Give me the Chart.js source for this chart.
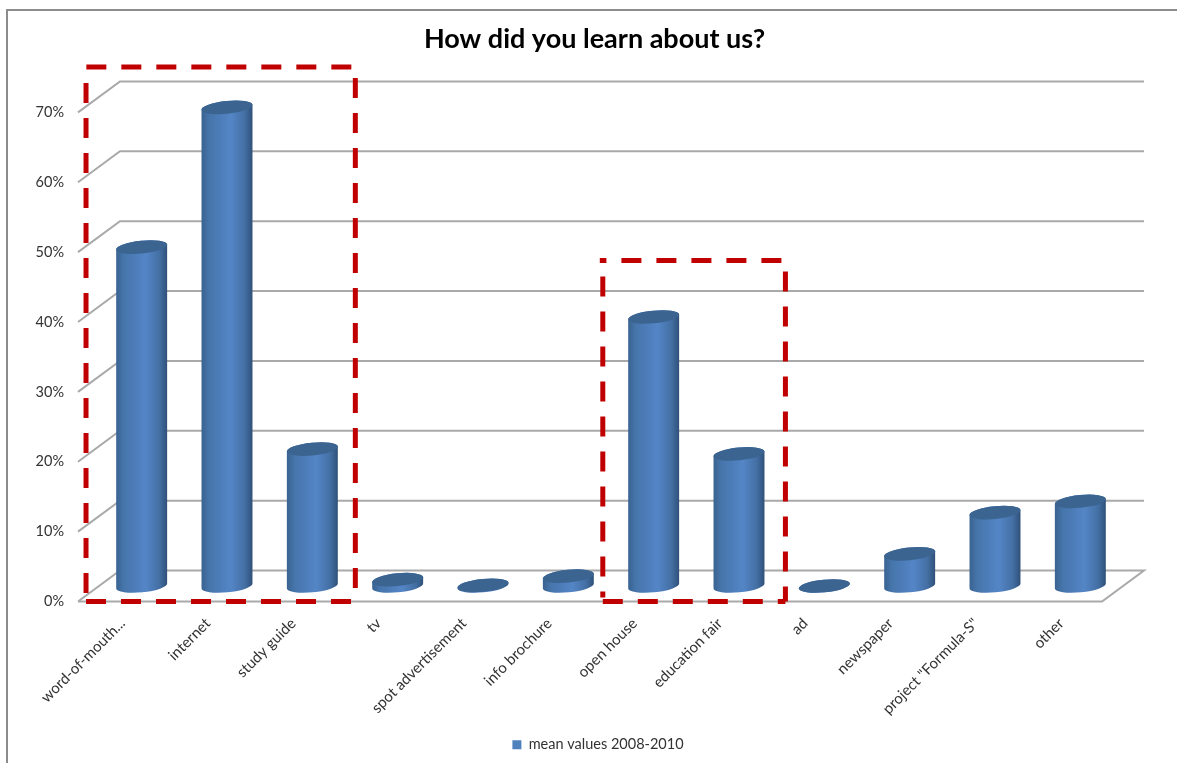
<!DOCTYPE html>
<html>
<head>
<meta charset="utf-8">
<title>How did you learn about us?</title>
<script src="https://cdn.jsdelivr.net/npm/chart.js@4"></script>
<style>
  html, body { margin: 0; padding: 0; background: #fff; overflow: hidden; }
  #wrap { position: relative; width: 1177px; height: 763px; }
  #frame { position: absolute; left: 6px; top: 9px; right: 0; bottom: 0;
           border-left: 2px solid #8c8c8c; border-top: 2px solid #8c8c8c; }
  canvas { position: absolute; left: 0; top: 0; }
</style>
</head>
<body>
<div id="wrap">
  <div id="frame"></div>
  <canvas id="chart" width="1177" height="763"></canvas>
</div>
<script>
// chart data
const categories = ["word-of-mouth...", "internet", "study guide", "tv", "spot advertisement", "info brochure",
  "open house", "education fair", "ad", "newspaper", 'project "Formula-S"', "other"];
const meanValues = [48.5, 68.5, 19.6, 0.9, 0.1, 1.4, 38.5, 18.9, 0, 4.6, 10.5, 12.1];
const seriesName = "mean values 2008-2010";
const chartTitle = "How did you learn about us?";

// red dashed boxes: first/last edge in category units, top edge in axis units
const boxLeft = [-0.406, 5.65];
const boxRight = [2.75, 7.79];
const boxTop = [76.5, 48.8];

// fake 3D depth of the floor
const depthX = 42;
const depthY = 31;

// gridlines on the back wall + floor outline
const wallPlugin = {
  id: "wall",
  afterLayout(chart) {
    // legend sits a little right of the title in the original
    chart.legend.left += 3.5;
    chart.legend.right += 3.5;
  },
  beforeDatasetsDraw(chart) {
    const ctx = chart.ctx;
    const { left, right } = chart.chartArea;
    const y = chart.scales.y;
    ctx.save();
    ctx.strokeStyle = "#a9a9a9";
    ctx.lineWidth = 2;
    y.ticks.forEach((t) => {
      const py = y.getPixelForValue(t.value);
      ctx.beginPath();
      ctx.moveTo(left, py);
      ctx.lineTo(left + depthX, py - depthY);
      ctx.lineTo(right + depthX, py - depthY);
      if (t.value === 0) {
        ctx.lineTo(right, py);
        ctx.lineTo(left, py);
      }
      ctx.stroke();
    });
    ctx.restore();
  }
};

// bars are laid out by chart.js, this only paints them as cylinders
const cylinderPlugin = {
  id: "cylinder",
  beforeDatasetDraw(chart, args) {
    const ctx = chart.ctx;
    args.meta.data.forEach((bar) => {
      const rx = bar.width / 2;
      const ry = 6.4;
      const tilt = -0.1;
      const cx = bar.x + depthX / 2;
      const top = bar.y - depthY / 2;
      const bottom = bar.base - depthY / 2;

      const grad = ctx.createLinearGradient(cx - rx, 0, cx + rx, 0);
      grad.addColorStop(0, "#39628f");
      grad.addColorStop(0.15, "#4675ab");
      grad.addColorStop(0.58, "#5485c6");
      grad.addColorStop(0.85, "#436fa3");
      grad.addColorStop(1, "#2f5078");

      ctx.save();
      ctx.beginPath();
      ctx.ellipse(cx, bottom, rx, ry, tilt, 0, Math.PI);
      ctx.ellipse(cx, top, rx, ry, tilt, Math.PI, Math.PI * 2);
      ctx.closePath();
      ctx.fillStyle = grad;
      ctx.fill();

      ctx.beginPath();
      ctx.ellipse(cx, top, rx, ry, tilt, 0, Math.PI * 2);
      ctx.fillStyle = "#3b6491";
      ctx.fill();
      ctx.restore();
    });
    return false; // skip the stock rectangles
  }
};

function dashedSide(ctx, x1, y1, x2, y2) {
  ctx.beginPath();
  ctx.moveTo(x1, y1);
  ctx.lineTo(x2, y2);
  ctx.stroke();
}

const boxPlugin = {
  id: "redBoxes",
  afterDraw(chart) {
    const ctx = chart.ctx;
    const { x, y } = chart.scales;
    const bottom = y.getPixelForValue(0);
    ctx.save();
    ctx.strokeStyle = "#c00000";
    ctx.lineWidth = 5;
    ctx.setLineDash([20, 15]);
    boxLeft.forEach((from, i) => {
      const l = x.getPixelForValue(from);
      const r = x.getPixelForValue(boxRight[i]);
      const t = y.getPixelForValue(boxTop[i]);
      dashedSide(ctx, r - 4, t, l - 3, t);
      dashedSide(ctx, r, t + 11, r, bottom);
      dashedSide(ctx, l, t + 16, l, bottom - 4);
      dashedSide(ctx, l, bottom, r, bottom);
    });
    ctx.restore();
  }
};

new Chart(document.getElementById("chart"), {
  type: "bar",
  data: {
    labels: categories,
    datasets: [{
      label: seriesName,
      data: meanValues,
      backgroundColor: "#4f81bd",
      categoryPercentage: 1,
      barPercentage: 0.6
    }]
  },
  plugins: [wallPlugin, cylinderPlugin, boxPlugin],
  options: {
    responsive: false,
    animation: false,
    layout: { padding: { left: 12, right: 0, top: 0, bottom: 1 } },
    plugins: {
      title: {
        display: true,
        text: chartTitle,
        color: "#000",
        font: { family: "Lato", size: 27, weight: "bold" },
        padding: { top: 23, bottom: 57 }
      },
      legend: {
        position: "bottom",
        labels: {
          color: "#333",
          font: { family: "Lato", size: 14.5 },
          boxWidth: 9,
          boxHeight: 9,
          padding: 6
        }
      },
      tooltip: { enabled: false }
    },
    scales: {
      x: {
        grid: { display: false, drawTicks: false },
        border: { display: false },
        afterFit(s) { s.height = 130; s.paddingLeft = 0; s.paddingRight = 0; },
        ticks: {
          autoSkip: false,
          minRotation: 45,
          maxRotation: 45,
          labelOffset: 2,
          padding: 13,
          color: "#333",
          font: { family: "Lato", size: 15 }
        }
      },
      y: {
        min: 0,
        max: 70,
        grid: { display: false, drawTicks: false },
        border: { display: false },
        afterFit(s) { s.width = 66; },
        ticks: {
          stepSize: 10,
          padding: 14,
          color: "#333",
          font: { family: "Lato", size: 14.5 },
          callback: (v) => v + "%"
        }
      },
      spacer: {
        position: "right",
        display: true,
        grid: { display: false, drawTicks: false },
        border: { display: false },
        ticks: { display: false },
        afterFit(s) { s.width = 75; }
      }
    }
  }
});
</script>
</body>
</html>
